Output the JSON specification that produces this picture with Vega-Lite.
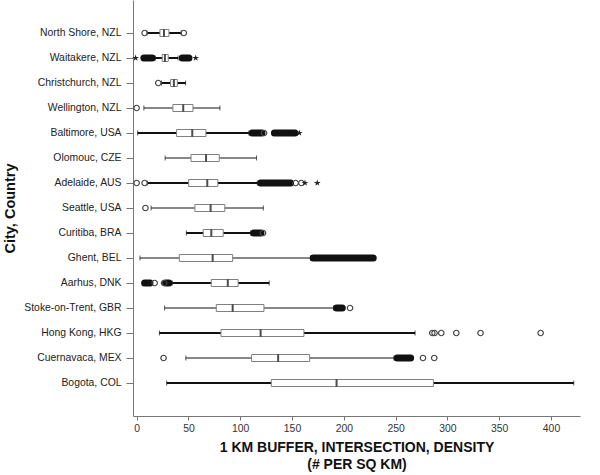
{
  "$schema": "https://vega.github.io/schema/vega-lite/v6.json",
  "width": 447,
  "height": 416,
  "autosize": "none",
  "padding": {"left": 133, "top": 0, "right": 20, "bottom": 59},
  "background": "white",
  "config": {
    "view": {"stroke": null},
    "font": "Liberation Sans"
  },
  "datasets": {
    "boxes": [
      {"city": "North Shore, NZL", "lo": 10, "q1": 22.5, "med": 26.4, "q3": 31.2, "hi": 43},
      {"city": "Waitakere, NZL", "lo": 18, "q1": 24.7, "med": 27.3, "q3": 30.5, "hi": 40},
      {"city": "Christchurch, NZL", "lo": 24, "q1": 32.8, "med": 36, "q3": 39.3, "hi": 47.3},
      {"city": "Wellington, NZL", "lo": 7, "q1": 35, "med": 45, "q3": 54.4, "hi": 80.4},
      {"city": "Baltimore, USA", "lo": 1, "q1": 38.6, "med": 53.7, "q3": 66.9, "hi": 108.4},
      {"city": "Olomouc, CZE", "lo": 27.5, "q1": 52.5, "med": 67, "q3": 79.8, "hi": 115.8},
      {"city": "Adelaide, AUS", "lo": 10.3, "q1": 50.2, "med": 68.2, "q3": 78.4, "hi": 116.5},
      {"city": "Seattle, USA", "lo": 14, "q1": 56.2, "med": 71.4, "q3": 85.1, "hi": 122.3},
      {"city": "Curitiba, BRA", "lo": 48, "q1": 64.3, "med": 72.1, "q3": 83.6, "hi": 110},
      {"city": "Ghent, BEL", "lo": 3.2, "q1": 41.2, "med": 73.4, "q3": 92.7, "hi": 168},
      {"city": "Aarhus, DNK", "lo": 34.4, "q1": 72, "med": 88, "q3": 98, "hi": 128},
      {"city": "Stoke-on-Trent, GBR", "lo": 27, "q1": 76.9, "med": 92.7, "q3": 122.9, "hi": 190},
      {"city": "Hong Kong, HKG", "lo": 22, "q1": 81.4, "med": 119.7, "q3": 161.5, "hi": 268.8},
      {"city": "Cuernavaca, MEX", "lo": 47.5, "q1": 111, "med": 136.6, "q3": 167, "hi": 248.4},
      {"city": "Bogota, COL", "lo": 29, "q1": 130, "med": 193, "q3": 286.5, "hi": 422}
    ],
    "circles": [
      {"city": "North Shore, NZL", "v": 7.7},
      {"city": "North Shore, NZL", "v": 45.5},
      {"city": "Christchurch, NZL", "v": 20.9},
      {"city": "Wellington, NZL", "v": 0},
      {"city": "Baltimore, USA", "v": 123},
      {"city": "Adelaide, AUS", "v": 0},
      {"city": "Adelaide, AUS", "v": 7.7},
      {"city": "Adelaide, AUS", "v": 153.5},
      {"city": "Adelaide, AUS", "v": 159},
      {"city": "Seattle, USA", "v": 8.5},
      {"city": "Curitiba, BRA", "v": 122},
      {"city": "Aarhus, DNK", "v": 17.4},
      {"city": "Aarhus, DNK", "v": 26.5},
      {"city": "Stoke-on-Trent, GBR", "v": 206},
      {"city": "Hong Kong, HKG", "v": 285.4},
      {"city": "Hong Kong, HKG", "v": 287.6},
      {"city": "Hong Kong, HKG", "v": 294.1},
      {"city": "Hong Kong, HKG", "v": 308.6},
      {"city": "Hong Kong, HKG", "v": 332},
      {"city": "Hong Kong, HKG", "v": 390},
      {"city": "Cuernavaca, MEX", "v": 26},
      {"city": "Cuernavaca, MEX", "v": 276.4},
      {"city": "Cuernavaca, MEX", "v": 287.3}
    ],
    "blobs": [
      {"city": "Waitakere, NZL", "from": 7, "to": 15},
      {"city": "Waitakere, NZL", "from": 44, "to": 50.5},
      {"city": "Baltimore, USA", "from": 111.5, "to": 121},
      {"city": "Baltimore, USA", "from": 133, "to": 152.8},
      {"city": "Adelaide, AUS", "from": 119.7, "to": 148.6},
      {"city": "Curitiba, BRA", "from": 113, "to": 120},
      {"city": "Ghent, BEL", "from": 170.4, "to": 228.4},
      {"city": "Aarhus, DNK", "from": 7.7, "to": 12.9},
      {"city": "Aarhus, DNK", "from": 28, "to": 31.2},
      {"city": "Stoke-on-Trent, GBR", "from": 193, "to": 198.5},
      {"city": "Cuernavaca, MEX", "from": 251.5, "to": 264.5}
    ],
    "stars": [
      {"city": "Waitakere, NZL", "v": -1},
      {"city": "Waitakere, NZL", "v": 57},
      {"city": "Baltimore, USA", "v": 157},
      {"city": "Adelaide, AUS", "v": 162.5},
      {"city": "Adelaide, AUS", "v": 174.4}
    ]
  },
  "encoding": {
    "y": {
      "field": "city",
      "type": "nominal",
      "sort": ["North Shore, NZL", "Waitakere, NZL", "Christchurch, NZL", "Wellington, NZL", "Baltimore, USA", "Olomouc, CZE", "Adelaide, AUS", "Seattle, USA", "Curitiba, BRA", "Ghent, BEL", "Aarhus, DNK", "Stoke-on-Trent, GBR", "Hong Kong, HKG", "Cuernavaca, MEX", "Bogota, COL"],
      "scale": {"type": "band", "paddingInner": 0, "paddingOuter": 0.82},
      "axis": {
        "title": "City, Country",
        "titleFontSize": 14.5,
        "titleFontWeight": "bold",
        "titleColor": "#111",
        "titlePadding": 6,
        "labelFontSize": 10.4,
        "labelColor": "#222",
        "labelPadding": 5,
        "tickSize": 7,
        "tickColor": "#777",
        "domainColor": "#777",
        "grid": false
      }
    }
  },
  "layer": [
    {
      "data": {"name": "boxes"},
      "mark": {"type": "rule", "color": "#111"},
      "encoding": {
        "x": {
          "field": "lo",
          "type": "quantitative",
          "scale": {"domain": [-3.5, 428], "nice": false, "zero": false},
          "axis": {
            "title": ["1 KM BUFFER, INTERSECTION, DENSITY", "(# PER SQ KM)"],
            "titleFontSize": 14,
            "titleFontWeight": "bold",
            "titleColor": "#111",
            "titleLineHeight": 17,
            "titlePadding": 7,
            "values": [0, 25, 50, 75, 100, 125, 150, 175, 200, 225, 250, 275, 300, 325, 350, 375, 400, 425],
            "labelExpr": "datum.value % 50 == 0 ? datum.label : ''",
            "labelFontSize": 10.4,
            "labelColor": "#333",
            "labelPadding": 3,
            "tickSize": 4,
            "tickColor": "#777",
            "domainColor": "#777",
            "grid": false
          }
        },
        "x2": {"field": "hi"},
        "strokeWidth": {
          "condition": {
            "test": "indexof(['North Shore, NZL','Waitakere, NZL','Christchurch, NZL','Baltimore, USA','Adelaide, AUS','Curitiba, BRA','Aarhus, DNK','Hong Kong, HKG','Bogota, COL'], datum.city) >= 0",
            "value": 2
          },
          "value": 1
        }
      }
    },
    {
      "data": {"name": "boxes"},
      "mark": {"type": "tick", "color": "#111", "size": 5, "thickness": 1},
      "encoding": {"x": {"field": "lo", "type": "quantitative"}}
    },
    {
      "data": {"name": "boxes"},
      "mark": {"type": "tick", "color": "#111", "size": 5, "thickness": 1},
      "encoding": {"x": {"field": "hi", "type": "quantitative"}}
    },
    {
      "data": {"name": "blobs"},
      "mark": {"type": "rule", "color": "#111", "strokeWidth": 7, "strokeCap": "round"},
      "encoding": {
        "x": {"field": "from", "type": "quantitative"},
        "x2": {"field": "to"}
      }
    },
    {
      "data": {"name": "boxes"},
      "mark": {"type": "bar", "size": 7, "fill": "white", "stroke": "#808080", "strokeWidth": 1},
      "encoding": {
        "x": {"field": "q1", "type": "quantitative"},
        "x2": {"field": "q3"}
      }
    },
    {
      "data": {"name": "boxes"},
      "mark": {"type": "tick", "color": "#000", "size": 7, "thickness": 2},
      "encoding": {"x": {"field": "med", "type": "quantitative"}}
    },
    {
      "data": {"name": "circles"},
      "mark": {"type": "point", "shape": "circle", "filled": false, "stroke": "#444", "strokeWidth": 1.2, "size": 30, "opacity": 1},
      "encoding": {"x": {"field": "v", "type": "quantitative"}}
    },
    {
      "data": {"name": "stars"},
      "mark": {"type": "point", "shape": "M0,-1L0.2245,-0.309L0.951,-0.309L0.363,0.118L0.588,0.809L0,0.382L-0.588,0.809L-0.363,0.118L-0.951,-0.309L-0.2245,-0.309Z", "filled": true, "color": "#222", "size": 50, "opacity": 1},
      "encoding": {"x": {"field": "v", "type": "quantitative"}}
    }
  ]
}
